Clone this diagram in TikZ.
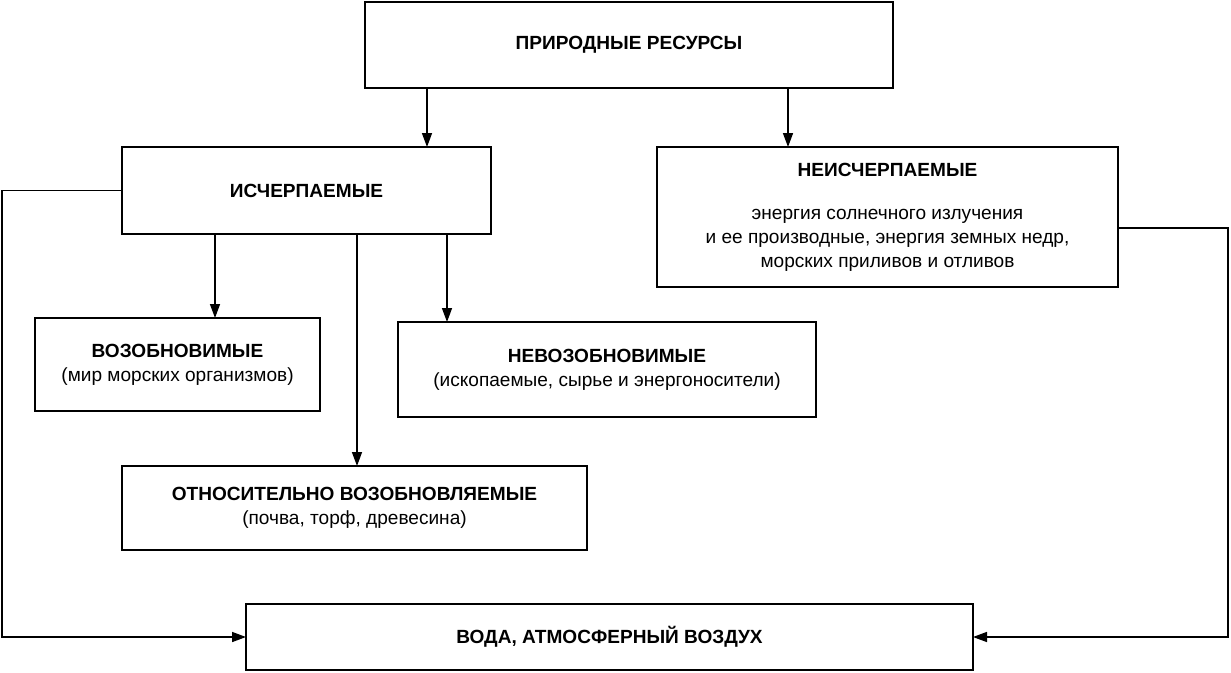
\documentclass[tikz,border=0pt]{standalone}
\usepackage{fontspec}
\setmainfont{Liberation Sans}
\usetikzlibrary{arrows.meta}
\begin{document}
\begin{tikzpicture}[x=0.75pt, y=-0.75pt, line width=1.1pt,
  box/.style={draw=black, rectangle, inner sep=0pt, outer sep=0pt, align=center,
    font={\fontsize{14.3}{18}\selectfont}},
  arr/.style={-{Triangle[length=10.5pt,width=7.5pt]}}]
\useasboundingbox (0,0) rectangle (1231,672);
% boxes
\node[box, minimum width=528*0.75pt, minimum height=86*0.75pt] (res) at (629,45) {\textbf{ПРИРОДНЫЕ РЕСУРСЫ}};
\node[box, minimum width=369*0.75pt, minimum height=87*0.75pt] (isch) at (306.5,190.5) {\textbf{ИСЧЕРПАЕМЫЕ}};
\node[box, minimum width=461*0.75pt, minimum height=140*0.75pt] (neisch) at (887.5,217)
  {\textbf{НЕИСЧЕРПАЕМЫЕ}\\[14pt] энергия солнечного излучения\\ и ее производные, энергия земных недр,\\ морских приливов и отливов};
\node[box, minimum width=285*0.75pt, minimum height=93*0.75pt] (vozob) at (177.5,364.5)
  {\textbf{ВОЗОБНОВИМЫЕ}\\ (мир морских организмов)};
\node[box, minimum width=418*0.75pt, minimum height=95*0.75pt] (nevozob) at (607,369.5)
  {\textbf{НЕВОЗОБНОВИМЫЕ}\\ (ископаемые, сырье и энергоносители)};
\node[box, minimum width=465*0.75pt, minimum height=84*0.75pt] (otnos) at (354.5,508)
  {\textbf{ОТНОСИТЕЛЬНО ВОЗОБНОВЛЯЕМЫЕ}\\ (почва, торф, древесина)};
\node[box, minimum width=727*0.75pt, minimum height=66*0.75pt] (voda) at (609.5,637) {\textbf{ВОДА, АТМОСФЕРНЫЙ ВОЗДУХ}};
% connectors
\coordinate (lc) at (2,190.5);
\coordinate (rc) at (1228,228);
\draw[arr] (res.south -| 427,0) -- (isch.north -| 427,0);
\draw[arr] (res.south -| 788,0) -- (neisch.north -| 788,0);
\draw[arr] (isch.south -| 215,0) -- (vozob.north -| 215,0);
\draw[arr] (isch.south -| 447,0) -- (nevozob.north -| 447,0);
\draw[arr] (isch.south -| 357,0) -- (otnos.north -| 357,0);
\draw[arr] (isch.west) -- (lc) |- (voda.west);
\draw[arr] (neisch.east |- rc) -- (rc) |- (voda.east);
\end{tikzpicture}
\end{document}
